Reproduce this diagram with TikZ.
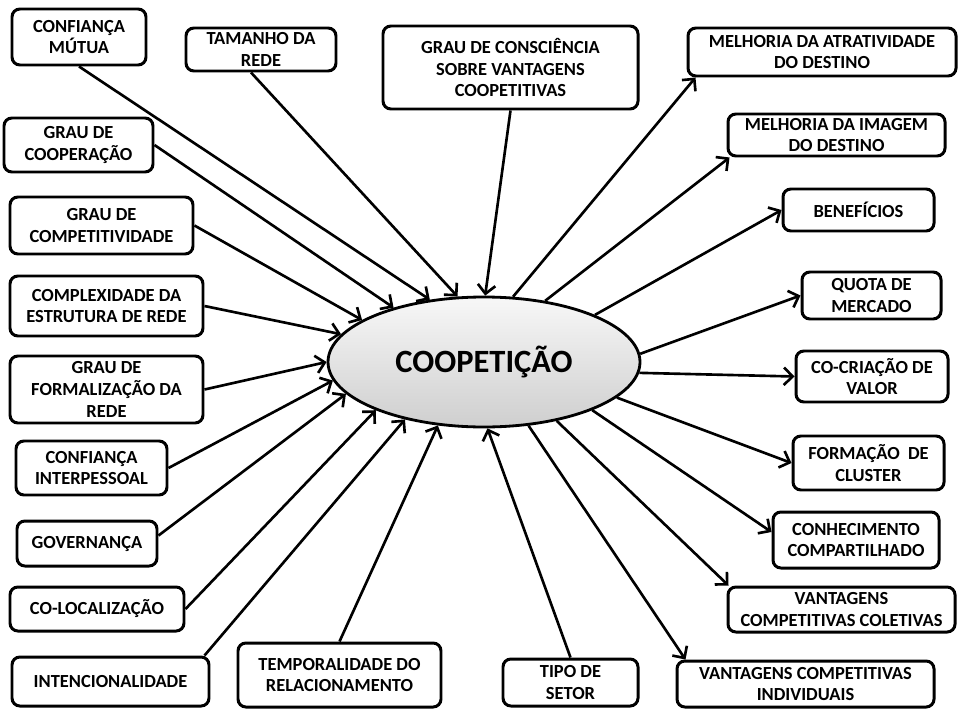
\documentclass[tikz,border=0pt]{standalone}
\usepackage{fontspec}
\setmainfont{Carlito}
\usetikzlibrary{arrows.meta,shapes.geometric}
\tikzset{
  box/.style={draw, line width=1.7pt, rounded corners=4.5pt, align=center, inner sep=0pt,
    font=\fontsize{10.5}{12.4}\selectfont\bfseries, fill=white},
  sz/.style 2 args={minimum width=#1*0.02cm, minimum height=#2*0.02cm},
  arr/.style={line width=1.5pt, -{Straight Barb[length=5pt,width=10pt,line width=1.5pt]}},
}
\begin{document}
\begin{tikzpicture}[x=0.02cm,y=-0.02cm]
\useasboundingbox (0,0) rectangle (960,720);
% central ellipse
\node[ellipse, draw, line width=1.6pt, top color=gray!6, bottom color=gray!38,
  minimum width=312*0.02cm, minimum height=130*0.02cm, inner sep=0pt,
  font=\fontsize{18.5}{20}\selectfont\bfseries] (ell) at (484,362) {COOPETIÇÃO};
% left / top input boxes
\node[box, sz={134}{56}] (mutua) at (79,37) {CONFIANÇA\\MÚTUA};
\node[box, sz={150}{43}] (tamanho) at (261,49.5) {TAMANHO DA\\REDE};
\node[box, sz={255}{83}] (consc) at (510.5,67.5) {GRAU DE CONSCIÊNCIA\\SOBRE VANTAGENS\\COOPETITIVAS};
\node[box, sz={149}{54}] (cooper) at (78.5,145) {GRAU DE\\COOPERAÇÃO};
\node[box, sz={183}{57}] (compet) at (101.5,225.5) {GRAU DE\\COMPETITIVIDADE};
\node[box, sz={193}{60}] (complex) at (106.5,306) {COMPLEXIDADE DA\\ESTRUTURA DE REDE};
\node[box, sz={193}{67}] (formal) at (106.5,389.5) {GRAU DE\\FORMALIZAÇÃO DA\\REDE};
\node[box, sz={151}{54}] (interp) at (91.5,468) {CONFIANÇA\\INTERPESSOAL};
\node[box, sz={140}{45}] (gov) at (87,543.5) {GOVERNANÇA};
\node[box, sz={174}{44}] (coloc) at (97,609) {CO-LOCALIZAÇÃO};
\node[box, sz={197}{49}] (intenc) at (110.5,681.5) {INTENCIONALIDADE};
\node[box, sz={203}{64}] (tempor) at (339.5,675) {TEMPORALIDADE DO\\RELACIONAMENTO};
\node[box, sz={135}{47}] (tipo) at (570.5,682.5) {TIPO DE\\SETOR};
% right output boxes
\node[box, sz={268}{48}] (atrat) at (822,52) {MELHORIA DA ATRATIVIDADE\\DO DESTINO};
\node[box, sz={217}{42}] (imagem) at (836.5,135) {MELHORIA DA IMAGEM\\DO DESTINO};
\node[box, sz={151}{42}] (benef) at (858.5,210) {BENEFÍCIOS};
\node[box, sz={139}{47}] (quota) at (871.5,295.5) {QUOTA DE\\MERCADO};
\node[box, sz={152}{51}] (cocri) at (872,376.5) {CO-CRIAÇÃO DE\\VALOR};
\node[box, sz={151}{54}] (cluster) at (868.5,463) {FORMAÇÃO~ DE\\CLUSTER};
\node[box, sz={166}{56}] (conhec) at (856,540) {CONHECIMENTO\\COMPARTILHADO};
\node[box, sz={227}{45}] (colet) at (841.5,609.5) {VANTAGENS\\COMPETITIVAS COLETIVAS};
\node[box, sz={257}{46}] (indiv) at (805.5,684) {VANTAGENS COMPETITIVAS\\INDIVIDUAIS};
% incoming connectors
\draw[arr] (mutua.south) -- (ell.131);
\draw[arr] ([xshift=-10*0.02cm]tamanho.south) -- (ell.112);
\draw[arr] (consc.south) -- (ell.89);
\draw[arr] (cooper.east) -- (ell.149);
\draw[arr] (compet.east) -- (ell.161);
\draw[arr] (complex.east) -- (ell.169);
\draw[arr] (formal.east) -- (ell.180);
\draw[arr] (interp.east) -- (ell.187);
\draw[arr] ([yshift=8*0.02cm]gov.east) -- (ell.193.5);
\draw[arr] (coloc.east) -- (ell.204);
\draw[arr] ([xshift=-6*0.02cm]intenc.north east) -- (ell.216);
\draw[arr] (tempor.north) -- (ell.234);
\draw[arr] (tipo.north) -- (ell.273);
% outgoing connectors
\draw[arr] (ell.66) -- ([xshift=9*0.02cm]atrat.south west);
\draw[arr] (ell.45.5) -- ([xshift=3*0.02cm]imagem.south west);
\draw[arr] (ell.23.4) -- (benef.west);
\draw[arr] (ell.3.7) -- (quota.west);
\draw[arr] (ell.-4) -- (cocri.west);
\draw[arr] (ell.-15) -- (cluster.west);
\draw[arr] (ell.-24) -- ([yshift=8*0.02cm]conhec.west);
\draw[arr] (ell.-39) -- ([xshift=2*0.02cm]colet.north west);
\draw[arr] (ell.-55) -- ([xshift=10*0.02cm]indiv.north west);
\end{tikzpicture}
\end{document}
